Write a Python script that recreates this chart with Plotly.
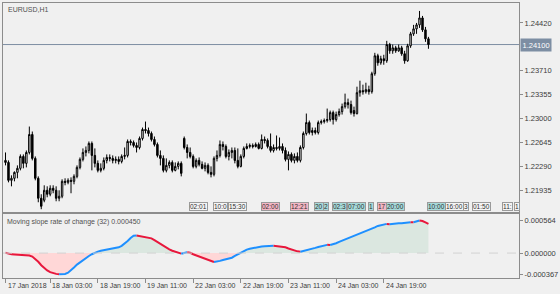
import plotly.graph_objects as go

# ---------------- data (EURUSD H1, one value per hourly bar) ----------------
open_ = [
    1.22379, 1.22349, 1.22083, 1.22113, 1.22201, 1.22261, 1.22438, 1.22335, 1.22497, 1.22764,
    1.22409, 1.22113, 1.21817, 1.21787, 1.21935, 1.21876, 1.21965, 1.21935, 1.21817, 1.21846,
    1.22068, 1.22053, 1.22083, 1.22068, 1.22142, 1.22275, 1.22394, 1.22497, 1.22527, 1.22631,
    1.22453, 1.22335, 1.22231, 1.22261, 1.22379, 1.22423, 1.22409, 1.22379, 1.22394, 1.22364,
    1.22438, 1.22453, 1.22660, 1.22645, 1.22601, 1.22571, 1.22705, 1.22838, 1.22823, 1.22779,
    1.22690, 1.22616, 1.22453, 1.22409, 1.22231, 1.22305, 1.22349, 1.22231, 1.22290, 1.22335,
    1.22705, 1.22571, 1.22497, 1.22438, 1.22290, 1.22379, 1.22320, 1.22261, 1.22305, 1.22201,
    1.22172, 1.22409, 1.22453, 1.22616, 1.22586, 1.22438, 1.22497, 1.22527, 1.22379, 1.22290,
    1.22438, 1.22557, 1.22586, 1.22601, 1.22586, 1.22616, 1.22557, 1.22690, 1.22675, 1.22586,
    1.22527, 1.22571, 1.22557, 1.22586, 1.22527, 1.22394, 1.22468, 1.22379, 1.22438, 1.22379,
    1.22571, 1.22779, 1.22941, 1.22793, 1.22823, 1.22793, 1.22941, 1.22956, 1.22971, 1.22986,
    1.23089, 1.22986, 1.23060, 1.23104, 1.23178, 1.23237, 1.23208, 1.23119, 1.23075, 1.23385,
    1.23415, 1.23400, 1.23430, 1.23400, 1.23667, 1.23933, 1.23829, 1.23889, 1.23859, 1.24100,
    1.24007, 1.24051, 1.24007, 1.24051, 1.23963, 1.23859, 1.24081, 1.24259, 1.24333, 1.24392,
    1.24495, 1.24318, 1.24185,
]
high = [
    1.22497, 1.22379, 1.22157, 1.22216, 1.22305, 1.22468, 1.22468, 1.22527, 1.22882, 1.22808,
    1.22438, 1.22142, 1.21876, 1.22009, 1.21994, 1.22009, 1.22009, 1.21994, 1.21935, 1.22098,
    1.22113, 1.22113, 1.22127, 1.22172, 1.22305, 1.22423, 1.22557, 1.22586, 1.22660, 1.22660,
    1.22557, 1.22379, 1.22335, 1.22423, 1.22468, 1.22468, 1.22453, 1.22438, 1.22438, 1.22468,
    1.22571, 1.22690, 1.22690, 1.22675, 1.22645, 1.22734, 1.22867, 1.22956, 1.22867, 1.22808,
    1.22734, 1.22645, 1.22527, 1.22453, 1.22409, 1.22379, 1.22379, 1.22349, 1.22364, 1.22364,
    1.22734, 1.22616, 1.22571, 1.22468, 1.22409, 1.22423, 1.22364, 1.22349, 1.22335, 1.22290,
    1.22438, 1.22527, 1.22675, 1.22660, 1.22616, 1.22542, 1.22571, 1.22571, 1.22557, 1.22468,
    1.22586, 1.22631, 1.22631, 1.22631, 1.22645, 1.22645, 1.22764, 1.22734, 1.22705, 1.22779,
    1.22616, 1.22749, 1.22719, 1.22631, 1.22571, 1.22512, 1.22497, 1.22483, 1.22497, 1.22601,
    1.22808, 1.23075, 1.22971, 1.22867, 1.22867, 1.22971, 1.22986, 1.23001, 1.23149, 1.23119,
    1.23119, 1.23104, 1.23149, 1.23223, 1.23371, 1.23297, 1.23267, 1.23178, 1.23474, 1.23563,
    1.23504, 1.23533, 1.23489, 1.23696, 1.23977, 1.23963, 1.23933, 1.23948, 1.24155, 1.24125,
    1.24100, 1.24081, 1.24100, 1.24081, 1.24007, 1.24111, 1.24288, 1.24392, 1.24421, 1.24599,
    1.24525, 1.24362, 1.24214,
]
low = [
    1.22305, 1.22053, 1.21994, 1.22068, 1.22113, 1.22231, 1.22261, 1.22275, 1.22468, 1.22379,
    1.22083, 1.21757, 1.21654, 1.21757, 1.21831, 1.21846, 1.21891, 1.21772, 1.21772, 1.21817,
    1.22009, 1.22024, 1.21891, 1.22024, 1.22113, 1.22246, 1.22364, 1.22438, 1.22483, 1.22231,
    1.22275, 1.22201, 1.22201, 1.22231, 1.22335, 1.22364, 1.22335, 1.22335, 1.22320, 1.22335,
    1.22394, 1.22423, 1.22601, 1.22571, 1.22497, 1.22542, 1.22675, 1.22779, 1.22734, 1.22660,
    1.22586, 1.22423, 1.22305, 1.22201, 1.22201, 1.22261, 1.22201, 1.22216, 1.22246, 1.22142,
    1.22542, 1.22409, 1.22409, 1.22261, 1.22261, 1.22290, 1.22246, 1.22216, 1.22172, 1.22127,
    1.22142, 1.22364, 1.22423, 1.22527, 1.22409, 1.22379, 1.22409, 1.22335, 1.22261, 1.22275,
    1.22409, 1.22542, 1.22557, 1.22557, 1.22571, 1.22542, 1.22542, 1.22631, 1.22557, 1.22497,
    1.22497, 1.22527, 1.22527, 1.22483, 1.22364, 1.22231, 1.22349, 1.22335, 1.22349, 1.22349,
    1.22542, 1.22749, 1.22764, 1.22749, 1.22764, 1.22764, 1.22912, 1.22927, 1.22941, 1.22956,
    1.22912, 1.22956, 1.23030, 1.23060, 1.23149, 1.23149, 1.23060, 1.23030, 1.23060, 1.23326,
    1.23356, 1.23371, 1.23356, 1.23371, 1.23637, 1.23785, 1.23800, 1.23800, 1.23829, 1.23963,
    1.23963, 1.23977, 1.23992, 1.23933, 1.23815, 1.23844, 1.24051, 1.24229, 1.24259, 1.24347,
    1.24288, 1.24140, 1.24037,
]
close = [
    1.22349, 1.22083, 1.22113, 1.22201, 1.22261, 1.22438, 1.22335, 1.22497, 1.22764, 1.22409,
    1.22113, 1.21817, 1.21698, 1.21935, 1.21876, 1.21965, 1.21935, 1.21817, 1.21846, 1.22068,
    1.22053, 1.22083, 1.22068, 1.22142, 1.22275, 1.22394, 1.22497, 1.22527, 1.22631, 1.22453,
    1.22335, 1.22231, 1.22261, 1.22379, 1.22423, 1.22409, 1.22379, 1.22394, 1.22364, 1.22438,
    1.22453, 1.22660, 1.22645, 1.22601, 1.22571, 1.22705, 1.22838, 1.22823, 1.22779, 1.22690,
    1.22616, 1.22453, 1.22409, 1.22231, 1.22305, 1.22349, 1.22231, 1.22290, 1.22335, 1.22187,
    1.22571, 1.22497, 1.22438, 1.22290, 1.22379, 1.22320, 1.22261, 1.22305, 1.22201, 1.22172,
    1.22409, 1.22453, 1.22616, 1.22586, 1.22438, 1.22497, 1.22527, 1.22379, 1.22290, 1.22438,
    1.22557, 1.22586, 1.22601, 1.22586, 1.22616, 1.22557, 1.22690, 1.22675, 1.22586, 1.22527,
    1.22571, 1.22557, 1.22586, 1.22527, 1.22394, 1.22468, 1.22379, 1.22438, 1.22379, 1.22571,
    1.22779, 1.22941, 1.22793, 1.22823, 1.22793, 1.22941, 1.22956, 1.22971, 1.22986, 1.23089,
    1.22986, 1.23060, 1.23104, 1.23178, 1.23237, 1.23208, 1.23089, 1.23075, 1.23385, 1.23415,
    1.23400, 1.23430, 1.23400, 1.23667, 1.23933, 1.23829, 1.23889, 1.23859, 1.24100, 1.24007,
    1.24051, 1.24007, 1.24051, 1.23963, 1.23859, 1.24081, 1.24259, 1.24333, 1.24392, 1.24495,
    1.24318, 1.24185, 1.24100,
]
slope_roc = [
    0.000005, -0.000012, -0.000022, -0.000026, -0.000028, -0.000030, -0.000032, -0.000036, -0.000042, -0.000060,
    -0.000100, -0.000150, -0.000210, -0.000260, -0.000300, -0.000330, -0.000350, -0.000360, -0.000367, -0.000366,
    -0.000360, -0.000340, -0.000300, -0.000250, -0.000200, -0.000160, -0.000120, -0.000080, -0.000050, -0.000020,
    0.000005, 0.000025, 0.000040, 0.000050, 0.000060, 0.000065, 0.000070, 0.000085, 0.000100, 0.000125,
    0.000160, 0.000210, 0.000260, 0.000300, 0.000305, 0.000295, 0.000288, 0.000283, 0.000275, 0.000255,
    0.000225, 0.000190, 0.000160, 0.000130, 0.000100, 0.000065, 0.000040, 0.000020, 0.000000, -0.000010,
    0.000005, 0.000015, 0.000005, -0.000020, -0.000040, -0.000060, -0.000080, -0.000100, -0.000120, -0.000140,
    -0.000155, -0.000150, -0.000135, -0.000120, -0.000110, -0.000100, -0.000080, -0.000050, -0.000020, 0.000010,
    0.000040, 0.000060, 0.000075, 0.000088, 0.000100, 0.000110, 0.000115, 0.000120, 0.000120, 0.000123,
    0.000125, 0.000122, 0.000115, 0.000110, 0.000100, 0.000080, 0.000060, 0.000045, 0.000030, 0.000022,
    0.000038, 0.000050, 0.000060, 0.000075, 0.000090, 0.000105, 0.000118, 0.000130, 0.000142, 0.000140,
    0.000150, 0.000170, 0.000195, 0.000215, 0.000235, 0.000255, 0.000275, 0.000295, 0.000315, 0.000335,
    0.000355, 0.000375, 0.000395, 0.000420, 0.000445, 0.000470, 0.000485, 0.000495, 0.000505, 0.000500,
    0.000508, 0.000512, 0.000515, 0.000518, 0.000520, 0.000525, 0.000535, 0.000532, 0.000548, 0.000564,
    0.000555, 0.000530, 0.000505,
]

bars = list(range(len(close)))

time_tick_bars = [0, 15, 31, 47, 63, 79, 95, 111, 127]
time_tick_labels = ["17 Jan 2018", "18 Jan 03:00", "18 Jan 19:00", "19 Jan 11:00", "22 Jan 03:00",
                    "22 Jan 19:00", "23 Jan 11:00", "24 Jan 03:00", "24 Jan 19:00"]

price_ticks = [1.21935, 1.22290, 1.22645, 1.23000, 1.23355, 1.23710, 1.24420]
bid_price = 1.24100
ind_ticks = [-0.000367, 0.0, 0.000564]
ind_tick_labels = ["-0.000367", "0.000000", "0.000564"]

symbol_title = "EURUSD,H1"
ind_title = "Moving slope rate of change (32) 0.000450"

# calendar-event tags along the bottom of the price pane (text as visible)
event_bars = [62, 70, 75, 86, 96, 104, 107, 110, 115, 122, 125, 128, 142, 148, 154, 157, 167, 171]
event_texts = ["02:01", "10:0", "15:30", "02:00", "12:21", "20", "2", "02:3", "07:00", "1",
               "17", "20:00", "10:00", "16:00", "3", "01:50", "11:", "1"]
event_kinds = ["low", "low", "low", "high", "high", "mid", "mid", "mid", "mid", "mid",
               "high", "mid", "mid", "low", "low", "low", "low", "low"]

# ---------------- styling ----------------
BG = "#f0f0f0"
FRAME = "#8c8c8c"
TXT = "#3c3c3c"
FONT = "Liberation Sans, Arial, sans-serif"
UP = "#1e90ff"
DN = "#e8173c"
event_colors = {"low": "#f4f4f4", "high": "#f4b6c4", "mid": "#a6dada"}

W, H = 560, 294
ML, MR, MT, MB = 2, 40, 2, 16
plot_h = H - MT - MB
main_dom = [(H - MB - 212) / plot_h, 1.0]
ind_dom = [0.0, (H - MB - 214) / plot_h]

fig = go.Figure()

fig.add_trace(go.Candlestick(
    x=bars, open=open_, high=high, low=low, close=close,
    increasing=dict(line=dict(color="#000000", width=1), fillcolor="#ffffff"),
    decreasing=dict(line=dict(color="#000000", width=1), fillcolor="#000000"),
    whiskerwidth=0, xaxis="x", yaxis="y", showlegend=False, hoverinfo="skip",
))

pos = [v if v > 0 else 0.0 for v in slope_roc]
neg = [v if v < 0 else 0.0 for v in slope_roc]
fig.add_trace(go.Scatter(x=bars, y=pos, mode="none", fill="tozeroy", fillcolor="#dbe7e0",
                         xaxis="x2", yaxis="y2", showlegend=False, hoverinfo="skip"))
fig.add_trace(go.Scatter(x=bars, y=neg, mode="none", fill="tozeroy", fillcolor="#ffd7d7",
                         xaxis="x2", yaxis="y2", showlegend=False, hoverinfo="skip"))

# colour each run of the line by its direction (rising blue, falling red)
n = len(slope_roc)
def seg_dir(j):
    return slope_roc[j] >= slope_roc[j - 1]
s = 0
d = seg_dir(1)
runs = []
for j in range(2, n):
    dj = seg_dir(j)
    if dj != d:
        runs.append((s, j - 1, d))
        s = j - 1
        d = dj
runs.append((s, n - 1, d))
for a, b, up in runs:
    fig.add_trace(go.Scatter(x=bars[a:b + 1], y=slope_roc[a:b + 1], mode="lines",
                             line=dict(color=UP if up else DN, width=2),
                             xaxis="x2", yaxis="y2", showlegend=False, hoverinfo="skip"))

x_range = [-0.84, 172.4]
axis_common = dict(showgrid=False, zeroline=False, showline=True, mirror=True,
                   linecolor=FRAME, linewidth=1)

fig.update_layout(
    width=W, height=H, margin=dict(l=ML, r=MR, t=MT, b=MB, pad=0),
    paper_bgcolor=BG, plot_bgcolor=BG,
    font=dict(family=FONT, size=7.5, color=TXT),
    xaxis=dict(domain=[0, 1], anchor="y", range=x_range, showticklabels=False, ticks="",
               rangeslider=dict(visible=False), **axis_common),
    yaxis=dict(domain=main_dom, anchor="x", side="right",
               range=[1.21609, 1.24717], tickvals=price_ticks,
               ticktext=[f"{v:.5f}" for v in price_ticks],
               ticks="outside", ticklen=3, tickcolor=FRAME,
               tickfont=dict(family=FONT, size=7.5, color=TXT), **axis_common),
    xaxis2=dict(domain=[0, 1], anchor="y2", range=x_range, matches="x",
                tickvals=time_tick_bars, showticklabels=False, ticks="outside",
                ticklen=4, tickcolor=FRAME, **axis_common),
    yaxis2=dict(domain=ind_dom, anchor="x2", side="right",
                range=[-0.000431, 0.000672], tickvals=ind_ticks, ticktext=ind_tick_labels,
                ticks="outside", ticklen=3, tickcolor=FRAME,
                tickfont=dict(family=FONT, size=7.5, color=TXT), **axis_common),
    showlegend=False,
)

shapes = [
    dict(type="line", xref="paper", x0=0, x1=1, yref="y", y0=bid_price, y1=bid_price,
         line=dict(color="#7d8ea3", width=1), layer="below"),
    dict(type="line", xref="paper", x0=0, x1=1, yref="y2", y0=0, y1=0,
         line=dict(color="#d2d2d2", width=1, dash="dash"), layer="above"),
]
fig.update_layout(shapes=shapes)

ann = []
ann.append(dict(text=symbol_title, xref="paper", yref="paper", x=3 / (W - ML - MR), y=(H - MB - 3) / plot_h,
                xanchor="left", yanchor="top", showarrow=False,
                font=dict(family=FONT, size=7, color="#505050")))
ann.append(dict(text=ind_title, xref="paper", yref="paper", x=2 / (W - ML - MR), y=(H - MB - 216) / plot_h,
                xanchor="left", yanchor="top", showarrow=False,
                font=dict(family=FONT, size=7, color="#505050")))
ann.append(dict(text=f"{bid_price:.5f}", xref="paper", yref="y", x=1, y=bid_price, xshift=1,
                xanchor="left", yanchor="middle", showarrow=False, bgcolor="#7d8ea3",
                borderpad=1.5, font=dict(family=FONT, size=7.5, color="#ffffff")))
for tb, tl in zip(time_tick_bars, time_tick_labels):
    ann.append(dict(text=tl, xref="x2", yref="paper", x=tb, y=-2 / plot_h, xshift=0,
                    xanchor="left", yanchor="top", showarrow=False,
                    font=dict(family=FONT, size=7, color=TXT)))
ev_y = (H - MB - 206.5) / plot_h
for eb, et, ek in zip(event_bars, event_texts, event_kinds):
    ann.append(dict(text=et, xref="x", yref="paper", x=eb, y=ev_y, xshift=-1,
                    xanchor="left", yanchor="middle", showarrow=False,
                    bgcolor=event_colors[ek], bordercolor="#9a9a9a", borderwidth=1, borderpad=0,
                    font=dict(family=FONT, size=6.5, color="#303030")))
fig.update_layout(annotations=ann)

fig.write_html("out.html")
